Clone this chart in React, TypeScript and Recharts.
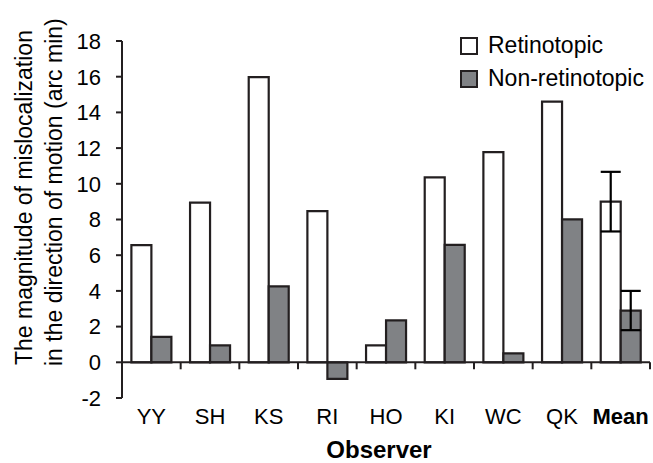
import React from 'react';
import { BarChart, Bar, XAxis, YAxis, ErrorBar, ReferenceLine, Legend } from 'recharts';

const categories = ['YY', 'SH', 'KS', 'RI', 'HO', 'KI', 'WC', 'QK', 'Mean'];
const retinotopic = [6.57, 8.94, 15.98, 8.47, 0.95, 10.36, 11.77, 14.6, 9.0];
const nonRetinotopic = [1.42, 0.95, 4.25, -0.93, 2.35, 6.58, 0.5, 8.01, 2.9];
const retinotopicErr: (number | null)[] = [null, null, null, null, null, null, null, null, 1.67];
const nonRetinotopicErr: (number | null)[] = [null, null, null, null, null, null, null, null, 1.1];
const yTicks = [-2, 0, 2, 4, 6, 8, 10, 12, 14, 16, 18];

const data = categories.map((name, i) => ({
  name,
  ret: retinotopic[i],
  non: nonRetinotopic[i],
  retErr: retinotopicErr[i],
  nonErr: nonRetinotopicErr[i],
}));

const FONT = '"Liberation Sans", Arial, sans-serif';
const INK = '#231f20';
const GRAY = '#808285';

const XTick = (props: any) => {
  const { x, y, payload } = props;
  const bold = payload.value === 'Mean';
  return (
    <text x={x} y={y} dy={18} textAnchor="middle" fontFamily={FONT} fontSize={22}
      fontWeight={bold ? 'bold' : 'normal'} fill="#000">
      {payload.value}
    </text>
  );
};

const ZeroLine = (props: any) => {
  const { x1, y1, x2 } = props;
  const n = categories.length;
  const ticks = [];
  for (let i = 0; i <= n; i++) {
    const tx = x1 + ((x2 - x1) * i) / n;
    ticks.push(<line key={i} x1={tx} x2={tx} y1={y1} y2={y1 + 7} stroke={INK} strokeWidth={2} />);
  }
  return (
    <g>
      <line x1={x1} x2={x2} y1={y1} y2={y1} stroke={INK} strokeWidth={2} />
      {ticks}
    </g>
  );
};

const YTitle = (props: any) => {
  const { viewBox } = props;
  const yStart = viewBox.y + viewBox.height - 33;
  return (
    <g fontFamily={FONT} fontSize={23} fill="#000">
      <text transform={`translate(24, ${yStart}) rotate(-90)`} textAnchor="start" dominantBaseline="central">
        The magnitude of mislocalization
      </text>
      <text transform={`translate(54, ${yStart + 1}) rotate(-90)`} textAnchor="start" dominantBaseline="central">
        in the direction of motion (arc min)
      </text>
    </g>
  );
};

const XTitle = (props: any) => {
  const { viewBox } = props;
  return (
    <text x={viewBox.x + viewBox.width / 2 - 7} y={viewBox.y + viewBox.height - 5} textAnchor="middle"
      fontFamily={FONT} fontSize={24} fontWeight="bold" fill="#000">
      Observer
    </text>
  );
};

const LegendContent = () => {
  const items = [
    { label: 'Retinotopic', fill: '#fff' },
    { label: 'Non-retinotopic', fill: GRAY },
  ];
  return (
    <div style={{ fontFamily: FONT, fontSize: 23, color: '#000' }}>
      {items.map((it) => (
        <div key={it.label} style={{ display: 'flex', alignItems: 'center', height: 33 }}>
          <div style={{ width: 14, height: 14, border: `2px solid ${INK}`, background: it.fill, marginRight: 10 }} />
          <span style={{ whiteSpace: 'nowrap' }}>{it.label}</span>
        </div>
      ))}
    </div>
  );
};

export default function App() {
  return (
    <div style={{ position: 'absolute', left: 0, top: 0 }}>
      <BarChart width={653} height={463} data={data} margin={{ top: 41, right: 3, left: 0, bottom: 0 }}
        barCategoryGap="16%" barGap={0}>
        <YAxis domain={[-2, 18]} ticks={yTicks} interval={0} width={122} tickSize={6} tickMargin={15}
          axisLine={{ stroke: INK, strokeWidth: 2 }} tickLine={{ stroke: INK, strokeWidth: 2 }}
          tick={{ fontFamily: FONT, fontSize: 22, fill: '#000' }} label={<YTitle />} allowDataOverflow />
        <XAxis dataKey="name" height={65} axisLine={false} tickLine={false} tick={<XTick />} interval={0}
          label={<XTitle />} />
        <Legend layout="horizontal" verticalAlign="middle" align="center" content={<LegendContent />}
          wrapperStyle={{ top: 29, left: 460, width: 'auto', height: 'auto' }} />
        <Bar dataKey="ret" fill="#fff" stroke={INK} strokeWidth={2.2} isAnimationActive={false}>
          <ErrorBar dataKey="retErr" width={10} stroke="#000" strokeWidth={2.2} />
        </Bar>
        <Bar dataKey="non" fill={GRAY} stroke={INK} strokeWidth={2.2} isAnimationActive={false}>
          <ErrorBar dataKey="nonErr" width={10} stroke="#000" strokeWidth={2.2} />
        </Bar>
        <ReferenceLine y={0} shape={<ZeroLine />} />
      </BarChart>
    </div>
  );
}
